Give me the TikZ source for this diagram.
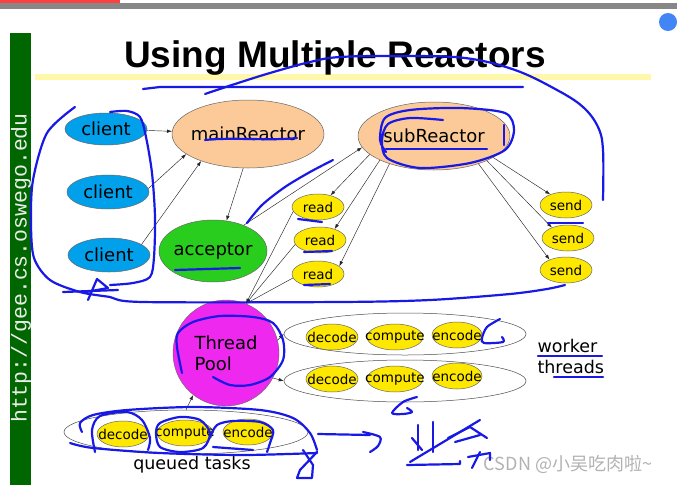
\documentclass[tikz,border=0pt]{standalone}
\usepackage{fontspec}
\setmainfont{DejaVu Sans}
\newfontfamily\headfont{Liberation Sans}
\newfontfamily\urlfont{Liberation Mono}
\newfontfamily\cjkfont{Noto Sans CJK SC}
\usetikzlibrary{shapes.geometric,arrows.meta}
\definecolor{clientblue}{RGB}{0,160,235}
\definecolor{peach}{RGB}{252,202,152}
\definecolor{accgreen}{RGB}{40,205,30}
\definecolor{jobyellow}{RGB}{255,232,0}
\definecolor{poolpink}{RGB}{238,40,238}
\definecolor{slidegreen}{RGB}{0,102,0}
\definecolor{hilite}{RGB}{255,248,170}
\definecolor{inkblue}{RGB}{25,25,230}
\definecolor{iconblue}{RGB}{66,133,244}

\begin{document}
\begin{tikzpicture}[x=1pt, y=-1pt,
  reactor/.style={ellipse, draw=black!60, line width=0.5pt, inner xsep=-6pt, inner ysep=0pt, font=\fontsize{18}{21}\selectfont},
  job/.style={ellipse, draw=black!60, fill=jobyellow, line width=0.5pt, inner xsep=-10pt, inner ysep=0pt, minimum width=52pt, minimum height=26pt, font=\fontsize{13.5}{15}\selectfont},
  bag/.style={ellipse, draw=black!70, line width=0.5pt, minimum width=242pt, minimum height=42pt},
  link/.style={-{Latex[length=5pt,width=3.5pt]}, black!85, line width=0.45pt},
  ink/.style={inkblue, line width=2.2pt, line cap=round, line join=round}]
\useasboundingbox (0,0) rectangle (677,485);
\fill[white] (0,0) rectangle (677,485);
\fill[black!47] (0,3) rectangle (677,9);
\fill[red!75] (0,0) rectangle (120,2.5);
\fill[iconblue] (668,22) circle (9);
\fill[slidegreen] (10,33) rectangle (31,485);
\fill[hilite] (35,74) rectangle (651,80);
\node [rotate=90, text=black!8, font=\urlfont\fontsize{21.5}{22}\selectfont] (url) at (21,268) {http://gee.cs.oswego.edu};
\node [font=\headfont\bfseries\fontsize{37}{40}\selectfont] (title) at (335,58) {Using Multiple Reactors};

\node [reactor, fill=clientblue, minimum width=82pt, minimum height=32pt] (c1) at (106,129) {client};
\node [reactor, fill=clientblue, minimum width=82pt, minimum height=34pt] (c2) at (108,192) {client};
\node [reactor, fill=clientblue, minimum width=82pt, minimum height=34pt] (c3) at (109,255) {client};
\node [reactor, fill=peach, minimum width=152pt, minimum height=68pt] (main) at (248,134) {mainReactor};
\node [reactor, fill=accgreen, minimum width=108pt, minimum height=62pt] (acc) at (213,251) {acceptor};
\node [reactor, fill=peach, minimum width=152pt, minimum height=68pt] (sub) at (434,136) {subReactor};

\node [job] (r1) at (318,207) {read};
\node [job] (r2) at (320,240) {read};
\node [job] (r3) at (318,274) {read};
\node [job] (s1) at (566,205) {send};
\node [job] (s2) at (568,238) {send};
\node [job] (s3) at (566,270) {send};

\node [circle, draw=black!60, fill=poolpink, minimum size=106pt, inner sep=0pt, align=left, font=\fontsize{18}{21}\selectfont] (pool) at (226,353) {Thread\\Pool};

\node [bag] (w1) at (405,334) {};
\node [bag] (w2) at (405,381) {};
\node [bag, minimum width=244pt, minimum height=44pt] (q) at (186,432) {};
\node [job] (d1) at (332,337) {decode};
\node [job, minimum width=54pt] (m1) at (395,337) {compute};
\node [job, minimum width=50pt] (e1) at (457,335) {encode};
\node [job] (d2) at (332,379) {decode};
\node [job, minimum width=54pt] (m2) at (395,379) {compute};
\node [job, minimum width=50pt] (e2) at (457,376) {encode};
\node [job] (d3) at (123,434) {decode};
\node [job, minimum width=54pt] (m3) at (185,433) {compute};
\node [job, minimum width=50pt] (e3) at (248,432) {encode};

\node [anchor=west, align=left, font=\fontsize{17.5}{21}\selectfont] (wt) at (534,356) {worker\\threads};
\node [font=\fontsize{17.5}{20}\selectfont] (qt) at (192,465) {queued tasks};
\node [text=black!30, font=\cjkfont\fontsize{18}{20}\selectfont] (mark) at (568,464) {CSDN @小吴吃肉啦\textasciitilde};

\draw [link] (c1) -- (main);
\draw [link] (c2.5) -- (main.198);
\draw [link] (c3.18) -- (main.210);
\draw [link] (main.262) -- (acc.66);
\draw [link] (acc.40) -- (sub.189);
\draw [link] (sub.196) -- (r1.43);
\draw [link] (sub.204) -- (r2.37);
\draw [link] (sub.212) -- (r3.20);
\draw [link] (sub.340) -- (s1.146);
\draw [link] (sub.335) -- (s2.147);
\draw [link] (sub.328) -- (s3.148);
\draw [link] (r1.190) -- (pool.68);
\draw [link] (r2.190) -- (pool.68);
\draw [link] (r3.189) -- (pool.68);
\draw [link] (pool.14) -- (w1.west);
\draw [link] (pool.-28) -- (w2.west);
\draw [link, {Latex[length=5pt,width=3.5pt]}-] (pool.232) -- (q.north);

\draw [ink] (143,89) -- (160,87) -- (523,87);
\draw [ink] plot [smooth, tension=0.6] coordinates {(205,94) (235,84) (270,73) (310,62) (340,57) (400,56) (465,58) (515,70) (557,90) (583,107) (598,127) (603,150) (603,200)};
\draw [ink] plot [smooth] coordinates {(75,107) (47,133) (33,180) (31,223) (34,258) (50,280) (80,292) (110,297) (143,302) (340,302) (430,300) (510,294) (547,289) (565,285)};
\draw [ink] plot [smooth] coordinates {(110,112) (127,111) (140,117) (146,137) (152,173) (155,217) (154,257) (150,277) (133,283) (110,285)};
\draw [ink] (88,300) -- (97,279) -- (108,288) -- (86,292);
\draw [ink] (63,292) -- (118,290);
\draw [ink] (205,140) .. controls (230,137) and (270,141) .. (297,138);
\draw [ink] (175,270) -- (240,268);
\draw [ink] plot [smooth] coordinates {(247,223) (262,205) (285,187) (310,172) (333,160)};
\draw [ink] plot [smooth] coordinates {(443,120) (410,118) (388,124) (382,140) (387,158) (420,168) (470,163) (505,150) (514,130) (505,113) (460,108) (410,110) (385,118) (380,140) (386,152)};
\draw [ink] (386,149) -- (487,149);
\draw [ink] (504,125) -- (504,145);
\draw [ink] (298,219) -- (322,222);
\draw [ink] (304,252) -- (332,251);
\draw [ink] (304,285) -- (330,284);
\draw [ink] (548,223) -- (583,223);
\draw [ink] plot [smooth] coordinates {(182,373) (177,347) (178,333) (193,322) (220,316) (253,317) (273,323) (283,340) (283,360) (270,377) (250,385) (230,385) (213,377)};
\draw [ink] (538,356) -- (602,356);
\draw [ink] (554,377) -- (603,377);
\draw [ink] plot [smooth] coordinates {(500,319) (487,327) (482,338) (484,343) (503,342) (502,337)};
\draw [ink] plot [smooth] coordinates {(417,397) (403,402) (392,413) (403,414) (412,412) (407,408)};
\draw [ink] (318,434) -- (370,435);
\draw [ink] plot [smooth] coordinates {(363,432) (380,437) (378,446) (370,452)};
\draw [ink] (412,438) -- (422,450);
\draw [ink] (418,425) -- (418,450);
\draw [ink] (433,422) -- (433,452);
\draw [ink] plot [smooth] coordinates {(410,462) (445,441) (480,420)};
\draw [ink] (407,465) -- (460,464) -- (460,461);
\draw [ink] (448,438) -- (470,427) -- (487,438);
\draw [ink] (455,442) -- (480,435);
\draw [ink] (468,457) -- (490,453) -- (490,460);
\draw [ink] (480,452) -- (472,468);
\draw [ink] plot [smooth] coordinates {(82,432) (80,423) (93,415) (127,410) (193,407) (260,410) (293,418) (310,433) (317,450)};
\draw [ink] plot [smooth] coordinates {(70,443) (93,448) (160,453) (243,455) (317,453)};
\draw [ink] (303,450) -- (313,465) -- (312,478) -- (297,478) -- (300,470) -- (317,452);
\draw [ink] plot [smooth] coordinates {(95,452) (92,430) (100,416) (127,412) (142,420) (150,438) (148,450)};
\draw [ink] plot [smooth cycle] coordinates {(160,423) (180,417) (200,420) (210,433) (203,448) (180,452) (160,447) (156,433)};
\draw [ink] plot [smooth] coordinates {(210,437) (217,425) (233,421) (260,422) (273,430) (270,443) (267,452)};
\draw [ink] (213,447) -- (253,450);
\end{tikzpicture}
\end{document}
